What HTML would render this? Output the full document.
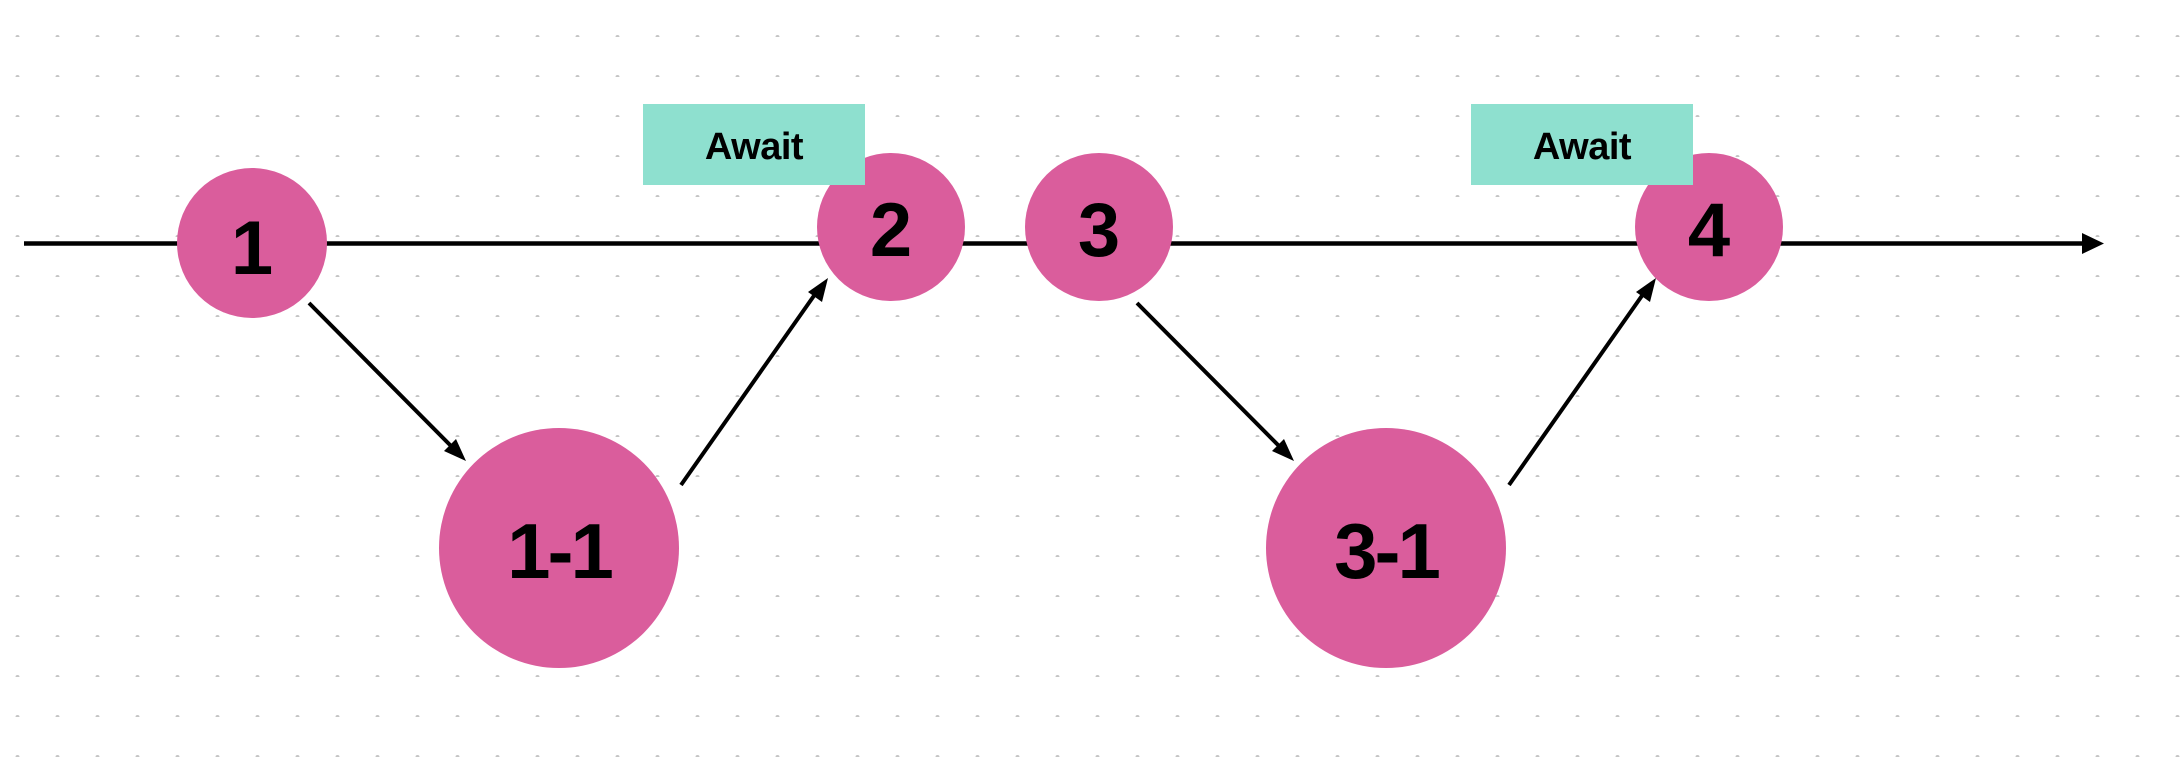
<!DOCTYPE html>
<html><head><meta charset="utf-8"><style>
html,body{margin:0;padding:0;background:#fff;}
svg{display:block;}
</style></head><body>
<svg width="2184" height="782" viewBox="0 0 2184 782" xmlns="http://www.w3.org/2000/svg">
<defs>
<pattern id="dots" x="0" y="0" width="40" height="40" patternUnits="userSpaceOnUse" patternTransform="translate(-2.5,-3)">
<circle cx="20" cy="40" r="2" fill="#c4c4c4"/>
</pattern>
</defs>
<rect width="2184" height="782" fill="#fff"/>
<rect width="2184" height="782" fill="url(#dots)"/>
<line x1="24" y1="243.5" x2="2092" y2="243.5" stroke="#000" stroke-width="4.5"/>
<path d="M2082,233 L2104,243.5 L2082,254 z" fill="#000"/>
<g fill="#da5d9c">
<circle cx="252" cy="243" r="75"/>
<circle cx="891" cy="227" r="74"/>
<circle cx="1099" cy="227" r="74"/>
<circle cx="1709" cy="227" r="74"/>
<circle cx="559" cy="548" r="120"/>
<circle cx="1386" cy="548" r="120"/>
</g>
<g stroke="#000" stroke-width="4" fill="none">
<line x1="309" y1="303" x2="456" y2="451"/>
<line x1="681" y1="485" x2="818" y2="290"/>
<line x1="1137" y1="303" x2="1284" y2="451"/>
<line x1="1509" y1="485" x2="1646" y2="290"/>
</g>
<g fill="#000">
<path d="M466,461 L444,451 L456,439 z"/>
<path d="M828,278 L822,302 L808,292 z"/>
<path d="M1294,461 L1272,451 L1284,439 z"/>
<path d="M1656,278 L1650,302 L1636,292 z"/>
</g>
<g fill="#8ee0cf">
<rect x="643" y="104" width="222" height="81"/>
<rect x="1471" y="104" width="222" height="81"/>
</g>
<g font-family="Liberation Sans, sans-serif" text-anchor="middle" fill="#000" font-weight="bold">
<text x="754" y="159" font-size="38" letter-spacing="-0.5">Await</text>
<text x="1582" y="159" font-size="38" letter-spacing="-0.5">Await</text>
<text x="252" y="274" font-size="76">1</text>
<text x="891" y="256" font-size="76">2</text>
<text x="1099" y="256" font-size="76">3</text>
<text x="1709" y="256" font-size="76">4</text>
<text x="559" y="578" font-size="78" letter-spacing="-3">1-1</text>
<text x="1386" y="578" font-size="78" letter-spacing="-3">3-1</text>
</g>
</svg>
</body></html>
